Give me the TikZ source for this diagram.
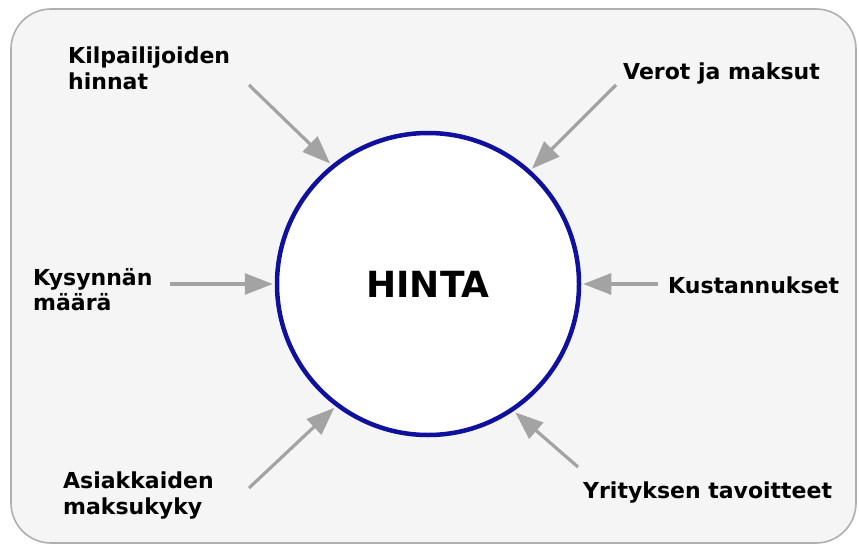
\documentclass[tikz,border=0pt]{standalone}
\usepackage{fontspec}
\setmainfont{DejaVu Sans}
\usetikzlibrary{arrows.meta}
\definecolor{tausta}{HTML}{F5F5F5}
\definecolor{reuna}{HTML}{AFAFAF}
\definecolor{sininen}{HTML}{10109E}
\definecolor{nuoli}{HTML}{A3A3A3}
\tikzset{
  teksti/.style={anchor=north west,inner sep=0pt,align=left,
    font=\fontsize{22}{25.5}\selectfont\bfseries},
  pil/.style={draw=nuoli,line width=3.2pt,shorten >=2pt,
    -{Triangle[length=28pt,width=21pt]}}
}
\begin{document}
\begin{tikzpicture}[x=1pt,y=-1pt]
    \useasboundingbox (0,0) rectangle (859,546);
    \draw [reuna,fill=tausta,line width=1.6pt,rounded corners=40pt] (11,9) rectangle (856,543);
    \node (hinta) [circle,draw=sininen,fill=white,line width=4.5pt,inner sep=0pt,minimum size=302pt,
      font=\fontsize{36}{40}\selectfont\bfseries] at (428,284) {HINTA};
    \node (kilp) [teksti] at (68,47) {Kilpailijoiden\\hinnat};
    \node (verot) [teksti] at (623,63) {Verot ja maksut};
    \node (kys) [teksti] at (33,268) {Kysynnän\\määrä};
    \node (kust) [teksti] at (668,277) {Kustannukset};
    \node (asiak) [teksti] at (63,472) {Asiakkaiden\\maksukyky};
    \node (yrit) [teksti] at (583,482) {Yrityksen tavoitteet};
    % nuolten alkupisteet
    \coordinate (kilp-a) at (249,85);
    \coordinate (verot-a) at (616,85);
    \coordinate (kys-a) at (170,284);
    \coordinate (kust-a) at (658,284);
    \coordinate (asiak-a) at (249,488);
    \coordinate (yrit-a) at (578,467);
    \draw [pil] (kilp-a) -- (hinta.129.6);
    \draw [pil] (verot-a) -- (hinta.48.8);
    \draw [pil] (kys-a) -- (hinta.180);
    \draw [pil] (kust-a) -- (hinta.0);
    \draw [pil] (asiak-a) -- (hinta.233);
    \draw [pil] (yrit-a) -- (hinta.304);
\end{tikzpicture}
\end{document}
